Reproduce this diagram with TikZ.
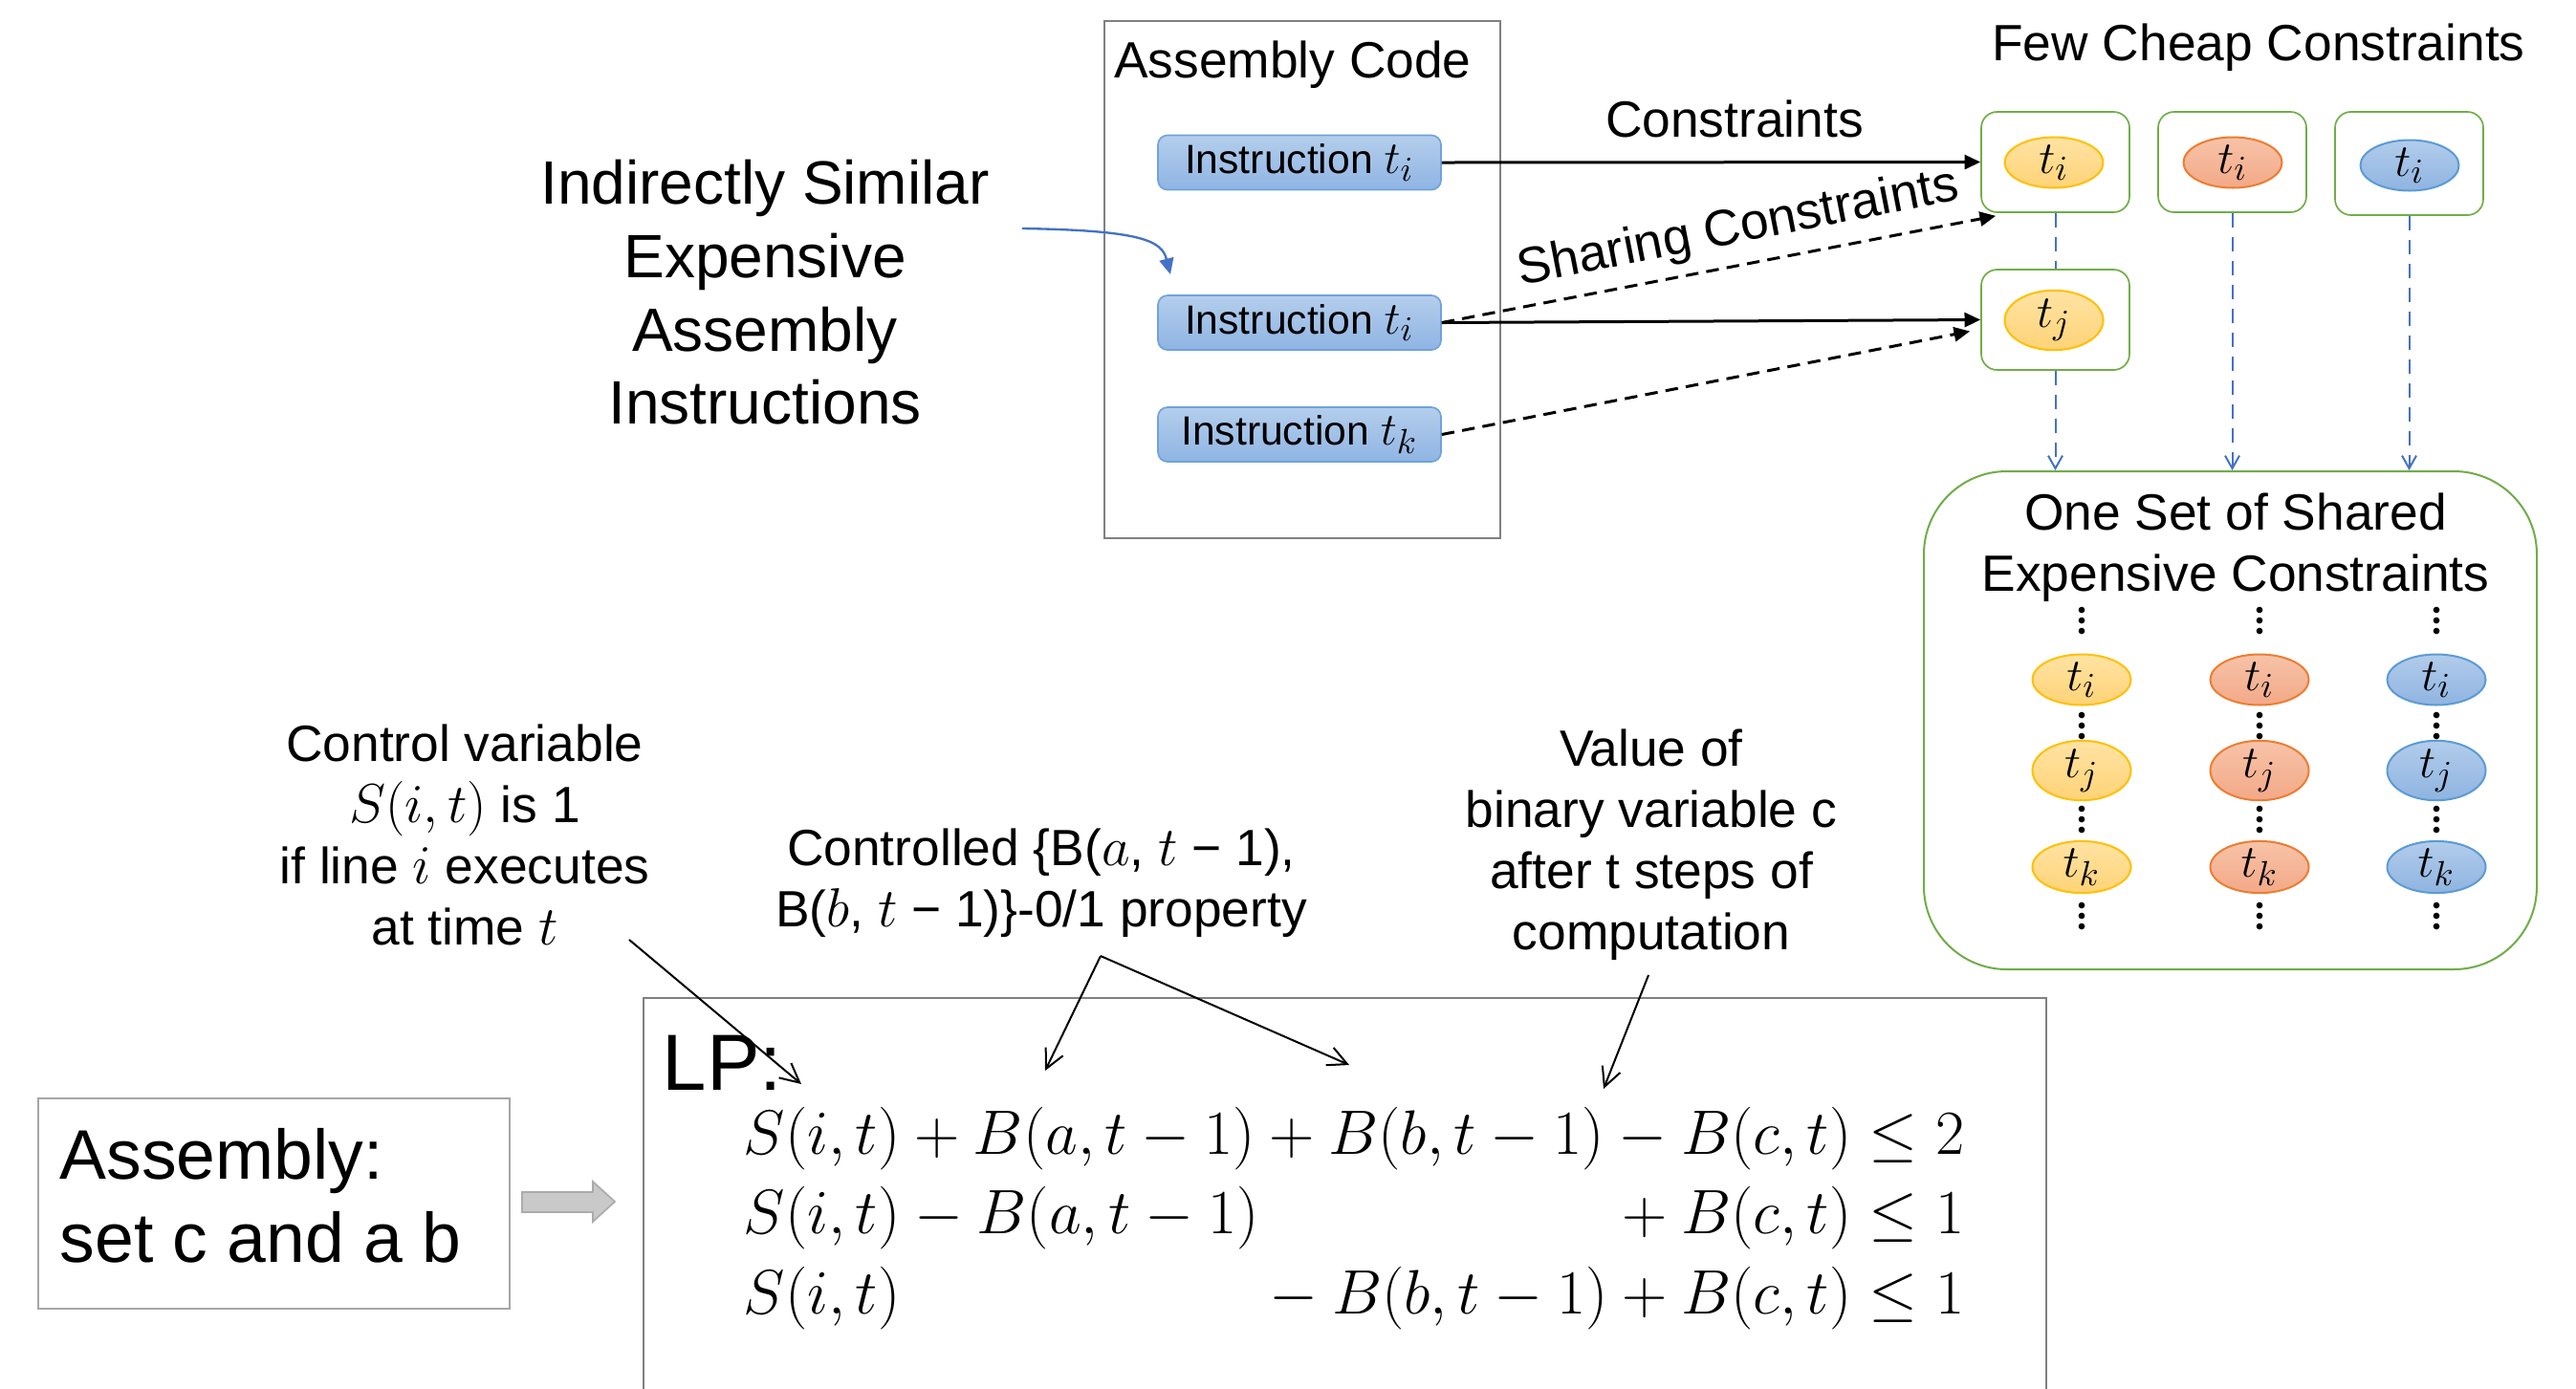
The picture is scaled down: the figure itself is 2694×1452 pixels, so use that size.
\documentclass[tikz,border=0pt]{standalone}
\usepackage[no-math]{fontspec}
\usepackage{graphicx}
\setmainfont{Liberation Sans}
\usetikzlibrary{arrows.meta,shapes.geometric,calc}
\definecolor{insTop}{HTML}{B4CEEC}
\definecolor{insBot}{HTML}{8FB4E3}
\definecolor{insBorder}{HTML}{6FA3DC}
\definecolor{yTop}{HTML}{FFE3A3}
\definecolor{yBot}{HTML}{FFD377}
\definecolor{yBorder}{HTML}{FFC000}
\definecolor{oTop}{HTML}{F7C3A8}
\definecolor{oBot}{HTML}{F3A987}
\definecolor{oBorder}{HTML}{ED7D31}
\definecolor{bTop}{HTML}{B2CCEB}
\definecolor{bBot}{HTML}{8FB4E1}
\definecolor{bBorder}{HTML}{5B9BD5}
\definecolor{grn}{HTML}{70AD47}
\definecolor{dblue}{HTML}{4472C4}
\definecolor{boxgray}{HTML}{808080}
\definecolor{asmgray}{HTML}{A6A6A6}
\definecolor{arrfill}{HTML}{C9C9C9}
\definecolor{arrborder}{HTML}{ABABAB}
\newcommand{\insmath}[1]{{\fontsize{15}{17}\selectfont$#1$}}
\newcommand{\eqrow}[1]{\scalebox{0.95}{$#1$}}
\begin{document}
\begin{tikzpicture}[x=0.3pt,y=-0.3pt,
  lbl/.style={font=\fontsize{16}{19.2}\selectfont, align=center, inner sep=0pt},
  graybox/.style={draw=boxgray, line width=0.7pt, inner sep=0pt},
  ins/.style={rectangle, rounded corners=3pt, draw=insBorder, line width=0.5pt, top color=insTop, bottom color=insBot, minimum width=88.8pt, minimum height=17.1pt, inner sep=0pt, font=\fontsize{12.8}{15}\selectfont},
  cheap/.style={rectangle, rounded corners=5pt, draw=grn, line width=0.5pt, minimum width=46.5pt, minimum height=31.5pt, inner sep=0pt},
  ell/.style={ellipse, minimum width=30.9pt, minimum height=15.9pt, inner sep=0pt, line width=0.6pt, font=\fontsize{15}{17}\selectfont},
  yel/.style={ell, draw=yBorder, top color=yTop, bottom color=yBot},
  ora/.style={ell, draw=oBorder, top color=oTop, bottom color=oBot},
  blu/.style={ell, draw=bBorder, top color=bTop, bottom color=bBot},
  carrow/.style={line width=0.9pt, -{Triangle[length=5pt,width=4.5pt]}},
  darrow/.style={carrow, dash pattern=on 4pt off 2.5pt},
  bdash/.style={draw=dblue, line width=0.6pt, dash pattern=on 4.5pt off 3pt},
  barrow/.style={bdash, -{Straight Barb[length=4pt,width=4.5pt]}},
  ann/.style={line width=0.6pt, -{Straight Barb[length=6pt,width=6pt]}},
  eq/.style={anchor=west, inner sep=0pt, font=\fontsize{20.74}{24}\selectfont}]
\useasboundingbox (0,0) rectangle (2694,1452);
\fill[white] (0,0) rectangle (2694,1452);

% Assembly code box
\node[graybox, minimum width=124.2pt, minimum height=162.3pt] (ac) at (1362,292.5) {};
\node[lbl] (actitle) at (1352,68) {Assembly Code};
\node[ins] (i1) at (1359,170) {Instruction \insmath{t_i}};
\node[ins] (i2) at (1359,337.5) {Instruction \insmath{t_i}};
\node[ins] (i3) at (1359,454.5) {Instruction \insmath{t_k}};

\node[lbl, font=\fontsize{19.2}{23}\selectfont] (ind) at (800,306) {Indirectly Similar\\Expensive\\Assembly\\Instructions};
\coordinate (bs) at (1069,239);
\coordinate (be) at (1224,287);
\draw[dblue, line width=0.7pt, -{Triangle[length=5pt,width=4.5pt]}] (bs) .. controls (1195,241) and (1215,252) .. (be);

% cheap constraints
\node[lbl] (few) at (2362,50) {Few Cheap Constraints};
\node[cheap] (c1) at (2149.5,169.5) {};
\node[cheap] (c2) at (2334.5,169.5) {};
\node[cheap, minimum height=32.4pt] (c3) at (2519.5,171) {};
\node[cheap] (cj) at (2149.5,334.5) {};
\node[yel] (e1) at (2148,170) {$t_i$};
\node[ora] (e2) at (2335,170) {$t_i$};
\node[blu] (e3) at (2520,173) {$t_i$};
\node[yel] (ej) at (2148,335) {$t_j$};

% connectors
\draw[carrow] (i1.east) -- (c1.west);
\node[lbl] (lc) at (1814,124) {Constraints};
\draw[carrow] (i2.east) -- (cj.west);
\draw[darrow] (i2.east) -- ($(c1.south west)+(16,3)$);
\draw[darrow] (i3.east) -- ($(cj.west)+(-11,12)$);
\node[lbl, rotate=11] (ls) at (1818,240) {Sharing Constraints};

% big box
\node[rectangle, rounded corners=26pt, draw=grn, line width=0.6pt, minimum width=192.3pt, minimum height=156.3pt, inner sep=0pt] (big) at (2332.5,753.5) {};
\node[lbl] (bt) at (2338,573) {One Set of Shared\\Expensive Constraints};

\draw[bdash] (c1.south) -- (cj.north);
\draw[barrow] (cj.south) -- (cj.south |- big.north);
\draw[barrow] (c2.south) -- (c2.south |- big.north);
\draw[barrow] (c3.south) -- (c3.south |- big.north);

\foreach \cx/\st in {2177/yel,2363/ora,2548/blu}{
  \node[\st] at (\cx,711) {$t_i$};
  \node[\st] at (\cx,806) {$t_j$};
  \node[\st] at (\cx,907) {$t_k$};
  \foreach \cy in {649,759,857,958}{
    \foreach \dy in {-11,0,11}{
      \fill (\cx,{\cy+\dy}) circle (1pt);
    }
  }
}

% bottom annotations
\node[lbl] (cv) at (486,873) {Control variable\\$S(i,t)$ is 1\\if line $i$ executes\\at time $t$};
\node[lbl] (ctl) at (1089,923.5) {Controlled \{B($a$, $t$ − 1),\\B($b$, $t$ − 1)\}-0/1 property};
\node[lbl] (val) at (1727,884) {Value of\\binary variable c\\after t steps of\\computation};

% LP box
\node[graybox, minimum width=440.1pt, minimum height=140pt, anchor=north west] (lp) at (672,1043) {};
\node[font=\fontsize{25}{30}\selectfont, anchor=west, inner sep=0pt] (lpl) at (692,1112) {LP:};
\node[eq] (r1) at (777,1191) {\eqrow{S(i,t)+B(a,t-1)+B(b,t-1)-B(c,t)\le 2}};
\node[eq] (r2) at (777,1274) {\eqrow{S(i,t)-B(a,t-1)\mathbin{\phantom{+}}\phantom{B(b,t-1)}+B(c,t)\le 1}};
\node[eq] (r3) at (777,1358) {\eqrow{S(i,t)\mathbin{\phantom{+}}\phantom{B(a,t-1)}-B(b,t-1)+B(c,t)\le 1}};

\coordinate (a1s) at (658,983);
\coordinate (a1e) at (838,1134);
\coordinate (a2s) at (1151,1000);
\coordinate (a2e) at (1093,1120);
\coordinate (a3e) at (1411,1114);
\coordinate (a4s) at (1724,1020);
\coordinate (a4e) at (1677,1139);
\draw[ann] (a1s) -- (a1e);
\draw[ann] (a2s) -- (a2e);
\draw[ann] (a2s) -- (a3e);
\draw[ann] (a4s) -- (a4e);

% assembly box
\node[draw=asmgray, line width=0.6pt, minimum width=147.9pt, minimum height=66pt, inner sep=0pt] (asm) at (286.5,1259) {};
\node[font=\fontsize{22}{26}\selectfont, align=left, anchor=west, inner sep=0pt] (asmt) at (62,1251) {Assembly:\\set c and a b};
\draw[fill=arrfill, draw=arrborder, line width=0.5pt] (546,1247) -- (620,1247) -- (620,1236) -- (643,1257) -- (620,1278) -- (620,1268) -- (546,1268) -- cycle;
\end{tikzpicture}
\end{document}
